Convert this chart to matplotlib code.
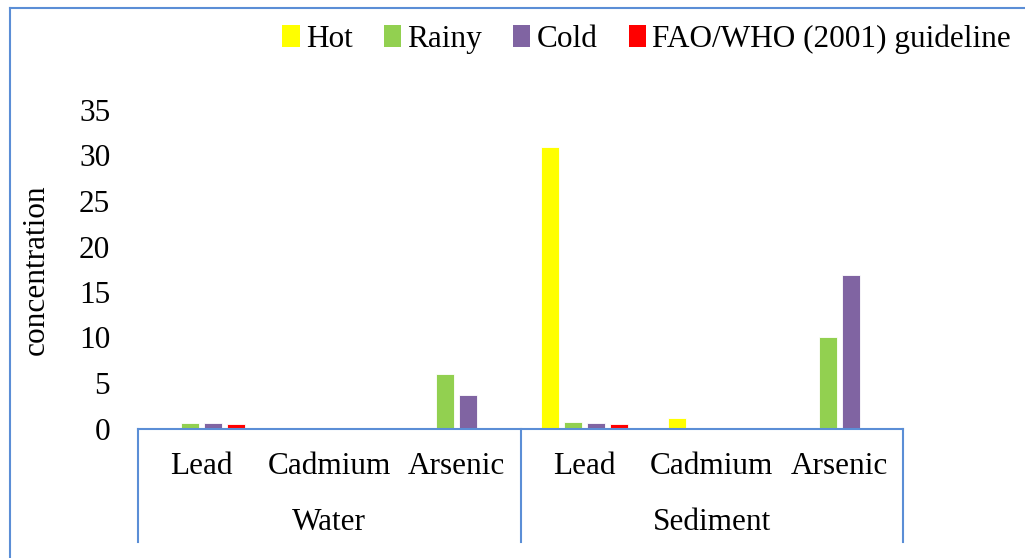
import numpy as np
import matplotlib.pyplot as plt
from matplotlib.lines import Line2D
from matplotlib.patches import Patch

plt.rcParams['font.family'] = ['Liberation Serif', 'DejaVu Serif']

# data
metals = ["Lead", "Cadmium", "Arsenic", "Lead", "Cadmium", "Arsenic"]
groups = ["Water", "Sediment"]
hot = [0, 0, 0, 30.9, 1.2, 0]
rainy = [0.6, 0, 6.0, 0.7, 0, 10.1]
cold = [0.6, 0, 3.7, 0.6, 0, 16.9]
guideline = [0.45, 0, 0, 0.45, 0, 0]
series_names = ["Hot", "Rainy", "Cold", "FAO/WHO (2001) guideline"]
colors = ["#FFFF00", "#92D050", "#8064A2", "#FF0000"]
yticks = [0, 5, 10, 15, 20, 25, 30, 35]

line_col = "#5B8ED6"
fs = 22.5

fig = plt.figure(figsize=(10.25, 5.58), dpi=100)
ax = fig.add_axes([138 / 1025, 1 - 428.5 / 558, (903 - 138) / 1025, (428.5 - 110) / 558])

x = np.arange(len(metals))
step = 0.18
width = 0.14
for i, (vals, c) in enumerate(zip([hot, rainy, cold, guideline], colors)):
    ax.bar(x + (i - 1.5) * step, vals, width, color=c, edgecolor='white', linewidth=0.6)

ax.set_xlim(-0.5, len(metals) - 0.5)
ax.set_ylim(0, 35)
ax.set_yticks(yticks)
ax.tick_params(axis='y', length=0, labelsize=fs, pad=20)
ax.set_xticks([])
for s in ['top', 'right', 'left']:
    ax.spines[s].set_visible(False)
ax.spines['bottom'].set_color(line_col)
ax.spines['bottom'].set_linewidth(1.5)

ax.set_ylabel("concentration", fontsize=fs)
ax.yaxis.set_label_coords(-0.114, 0.5)

# category labels and group separators below the axis
trans = ax.get_xaxis_transform()
for xi, m in zip(x, metals):
    ax.text(xi, -0.12, m, transform=trans, ha='center', va='center', fontsize=fs)
for gi, g in enumerate(groups):
    ax.text(gi * 3 + 1, -0.295, g, transform=trans, ha='center', va='center', fontsize=fs)
for bx in [-0.5, 2.5, 5.5]:
    ax.add_line(Line2D([bx, bx], [0, -0.355], transform=trans, color=line_col,
                       linewidth=1.5, clip_on=False))

# outer chart frame (left and top edges visible)
fig.add_artist(Line2D([10 / 1025, 10 / 1025], [0, 1 - 8 / 558], transform=fig.transFigure,
                      color=line_col, linewidth=1.5))
fig.add_artist(Line2D([10 / 1025, 1], [1 - 8 / 558, 1 - 8 / 558], transform=fig.transFigure,
                      color=line_col, linewidth=1.5))

handles = [Patch(facecolor=c) for c in colors]
fig.legend(handles, series_names, loc='center right', bbox_to_anchor=(1.0, 1 - 39 / 558),
           ncol=4, frameon=False, fontsize=fs, handlelength=0.55, handleheight=0.7,
           handletextpad=0.2, columnspacing=1.0, borderaxespad=0.05)

fig.savefig("out.png", dpi=100)
